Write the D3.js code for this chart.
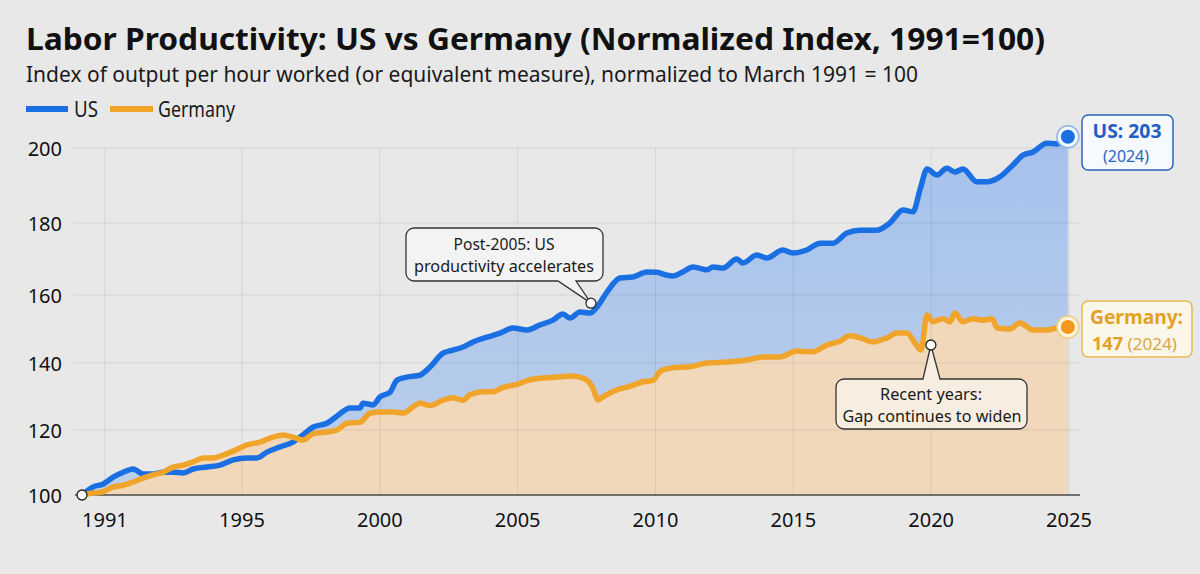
<!DOCTYPE html>
<html><head><meta charset="utf-8">
<script src="https://cdn.jsdelivr.net/npm/d3@7"></script>
<style>
body{margin:0;background:#e8e8e8;}
svg text{font-family:"Noto Sans","Open Sans",sans-serif;}
</style>
</head><body>
<svg id="chart" width="1200" height="574"></svg>
<script>
// ---------------- DATA ----------------
const seriesNames = ["US", "Germany"];
const xTickValues = [1991, 1995, 2000, 2005, 2010, 2015, 2020, 2025];
const yTickValues = [100, 120, 140, 160, 180, 200];

const usYears = [1991.00,1991.28,1991.53,1991.78,1992.03,1992.28,1992.53,1992.78,1993.03,1993.28,1993.53,1993.78,1994.13,1994.45,1994.78,1995.18,1995.54,1995.91,1996.38,1996.85,1997.21,1997.58,1998.08,1998.45,1998.92,1999.28,1999.39,1999.75,2000.01,2000.37,2000.62,2000.98,2001.46,2001.82,2002.29,2002.65,2003.02,2003.38,2003.89,2004.36,2004.83,2005.34,2005.81,2006.28,2006.64,2006.90,2007.26,2007.62,2007.88,2008.24,2008.71,2009.18,2009.69,2010.05,2010.42,2010.63,2010.99,2011.36,2011.87,2012.08,2012.45,2012.95,2013.17,2013.68,2014.04,2014.62,2014.98,2015.49,2015.97,2016.44,2016.94,2017.42,2018.03,2018.50,2018.98,2019.34,2019.60,2019.85,2020.21,2020.57,2020.86,2021.15,2021.66,2022.02,2022.49,2022.97,2023.33,2023.69,2024.20,2024.56,2024.96];
const usValues = [100,102.5,103.4,105.5,107,108,106.5,106.5,107,107,106.8,108,108.6,109.2,110.8,111.4,111.4,113.2,114.8,116.3,118.5,120.9,122,124.2,126.6,126.6,128,127.5,129.9,131.3,134.9,135.8,136.4,138.8,142.9,143.8,144.7,146.2,147.6,148.8,150.3,149.7,151.2,152.6,154.4,153.2,155,154.7,156.5,160.8,164.7,165,166.4,166.3,165.5,165.3,166.4,167.8,167,167.8,167.5,170,168.9,171.1,170.3,172.5,171.7,172.5,174.4,174.4,177.2,178,178,180,183.5,183,189,194.4,192.8,194.6,193.6,194.4,191,191,192.3,195.5,198.1,198.9,201.3,201.1,203];

const deYears = [1991.00,1991.28,1991.53,1991.78,1992.03,1992.28,1992.53,1992.78,1993.03,1993.28,1993.53,1993.78,1994.03,1994.28,1994.53,1994.78,1995.18,1995.65,1996.12,1996.49,1996.85,1997.21,1997.58,1998.08,1998.45,1998.81,1999.28,1999.64,2000.01,2000.48,2000.84,2001.46,2001.82,2002.29,2002.65,2003.02,2003.27,2003.74,2004.10,2004.47,2004.97,2005.45,2005.92,2006.43,2006.90,2007.37,2007.70,2007.92,2008.09,2008.60,2009.07,2009.54,2009.91,2010.16,2010.63,2011.25,2011.87,2012.59,2013.32,2013.90,2014.51,2015.13,2015.71,2016.22,2016.69,2017.05,2017.42,2017.89,2018.40,2018.76,2019.12,2019.41,2019.63,2019.85,2020.06,2020.43,2020.68,2020.86,2021.15,2021.51,2021.88,2022.21,2022.39,2022.86,2023.22,2023.69,2024.20,2024.56,2024.96];
const deValues = [100,100.6,101,102.5,103,104,105.2,106.2,107,108.6,109.2,110.2,111.4,111.4,112.3,113.5,115.4,116.3,117.8,118.5,117.8,116.9,118.8,119.4,120,122,122.3,125,125.4,125.4,125.1,128,127.3,128.9,129.6,128.9,130.5,131.4,131.4,132.7,133.6,135,135.5,135.8,136.1,135.5,133,129,129.9,132,133,134.4,134.8,137.4,138.6,138.9,140,140.3,140.9,141.8,141.8,143.5,143.3,145.3,146.4,148,147.4,146.2,147.4,148.8,148.8,145.9,143.8,154.1,152.1,153,152.1,154.7,152.1,153,152.6,153,150.3,150,151.8,149.7,149.7,150.3,150.6];

const endLabelValues = [203, 147];
const endLabelYear = "(2024)";
const annotationTexts = [["Post-2005: US", "productivity accelerates"], ["Recent years:", "Gap continues to widen"]];
const annotationAnchors = [[2007.66, 157.6], [2019.99, 145.3]];

const titleText = "Labor Productivity: US vs Germany (Normalized Index, 1991=100)";
const subtitleText = "Index of output per hour worked (or equivalent measure), normalized to March 1991 = 100";

// ---------------- DRAW ----------------
const svg = d3.select("#chart");
const C = { us: "#1a6fe3", de: "#f1a42a", deArea: "#f1d8bb" };

const x = d3.scaleLinear().domain([1991, 1995, 2025]).range([82, 242, 1069]);
const y = d3.scaleLinear().domain(yTickValues).range([495, 430, 363, 295, 223, 148]);

function fit(sel, w) { return sel.attr("textLength", w).attr("lengthAdjust", "spacingAndGlyphs"); }

svg.append("rect").attr("width", 1200).attr("height", 574).attr("fill", "#e8e8e8");

// title
fit(svg.append("text").attr("x", 26).attr("y", 50).attr("font-size", 30).attr("font-weight", 700)
  .attr("fill", "#111").text(titleText), 1019);
fit(svg.append("text").attr("x", 26).attr("y", 82).attr("font-size", 22).attr("fill", "#1a1a1a")
  .text(subtitleText), 892);

// legend
const leg = svg.append("g");
leg.append("line").attr("x1", 26).attr("x2", 68).attr("y1", 109).attr("y2", 109).attr("stroke", C.us).attr("stroke-width", 6);
fit(leg.append("text").attr("x", 74).attr("y", 117).attr("font-size", 21).attr("fill", "#1a1a1a").text(seriesNames[0]), 24);
leg.append("line").attr("x1", 110).attr("x2", 153).attr("y1", 109).attr("y2", 109).attr("stroke", C.de).attr("stroke-width", 6);
fit(leg.append("text").attr("x", 158).attr("y", 117).attr("font-size", 21).attr("fill", "#1a1a1a").text(seriesNames[1]), 77);

const us = usYears.map((t, i) => [t, usValues[i]]);
const de = deYears.map((t, i) => [t, deValues[i]]);

// gradient for US area
const defs = svg.append("defs");
const g1 = defs.append("linearGradient").attr("id", "usg").attr("x1", 0).attr("x2", 0).attr("y1", 0).attr("y2", 1);
g1.append("stop").attr("offset", "0%").attr("stop-color", "#a5c1ec");
g1.append("stop").attr("offset", "100%").attr("stop-color", "#bccfea");

const area = d3.area().x(d => x(d[0])).y0(y(100)).y1(d => y(d[1])).curve(d3.curveMonotoneX);
const line = d3.line().x(d => x(d[0])).y(d => y(d[1])).curve(d3.curveMonotoneX);

svg.append("path").datum(us).attr("d", area).attr("fill", "url(#usg)");
svg.append("path").datum(de).attr("d", area).attr("fill", C.deArea);

// grid
const grid = svg.append("g").attr("stroke", "#000").attr("stroke-opacity", 0.08).attr("stroke-width", 1);
yTickValues.slice(1).forEach(v => grid.append("line").attr("x1", 73).attr("x2", 1080).attr("y1", y(v)).attr("y2", y(v)));
xTickValues.slice(1).forEach(v => grid.append("line").attr("x1", x(v)).attr("x2", x(v)).attr("y1", y(200)).attr("y2", y(100)));

// y axis labels
svg.append("g").selectAll("text").data(yTickValues).join("text")
  .attr("x", 62).attr("y", d => y(d)).attr("dy", "0.38em").attr("text-anchor", "end")
  .attr("font-size", 20).attr("fill", "#111").text(d => d);

// x axis labels
const xl = svg.append("g").selectAll("text").data(xTickValues).join("text")
  .attr("x", d => x(d)).attr("y", 527).attr("text-anchor", (d, i) => i === 0 ? "start" : "middle")
  .attr("font-size", 20).attr("fill", "#111").text(d => d);
const b0 = xl.nodes()[0].getBBox();
grid.append("line").attr("x1", b0.x + b0.width / 2).attr("x2", b0.x + b0.width / 2).attr("y1", y(200)).attr("y2", y(100));

// baseline
svg.append("line").attr("x1", 75).attr("x2", 1080).attr("y1", y(100)).attr("y2", y(100)).attr("stroke", "#4a4a4a").attr("stroke-width", 1.5);

// lines
svg.append("path").datum(us).attr("d", line).attr("fill", "none").attr("stroke", C.us)
  .attr("stroke-width", 5.5).attr("stroke-linejoin", "round").attr("stroke-linecap", "round");
svg.append("path").datum(de).attr("d", line).attr("fill", "none").attr("stroke", C.de)
  .attr("stroke-width", 5.5).attr("stroke-linejoin", "round").attr("stroke-linecap", "round");

// start marker
svg.append("circle").attr("cx", x(usYears[0])).attr("cy", y(usValues[0])).attr("r", 5)
  .attr("fill", "#fff").attr("stroke", "#222").attr("stroke-width", 1.3);

// callouts
function callout(x0, y0, x1, y1, r, side, p0, p1, tx, ty) {
  const p = d3.path();
  p.moveTo(x0 + r, y0);
  if (side === "top") { p.lineTo(p0, y0); p.lineTo(tx, ty); p.lineTo(p1, y0); }
  p.lineTo(x1 - r, y0); p.arcTo(x1, y0, x1, y0 + r, r);
  p.lineTo(x1, y1 - r); p.arcTo(x1, y1, x1 - r, y1, r);
  if (side === "bottom") { p.lineTo(p1, y1); p.lineTo(tx, ty); p.lineTo(p0, y1); }
  p.lineTo(x0 + r, y1); p.arcTo(x0, y1, x0, y1 - r, r);
  p.lineTo(x0, y0 + r); p.arcTo(x0, y0, x0 + r, y0, r);
  p.closePath();
  return p.toString();
}
const a1 = [x(annotationAnchors[0][0]), y(annotationAnchors[0][1])];
const a2 = [x(annotationAnchors[1][0]), y(annotationAnchors[1][1])];
svg.append("path").attr("d", callout(406, 228, 603, 281, 8, "bottom", 558, 576, a1[0], a1[1]))
  .attr("fill", "#f3f3f3").attr("stroke", "#333").attr("stroke-width", 1.3);
svg.append("path").attr("d", callout(836, 379, 1027, 429, 8, "top", 923, 940, a2[0], a2[1]))
  .attr("fill", "#f7eee1").attr("stroke", "#333").attr("stroke-width", 1.3);
[a1, a2].forEach(a => svg.append("circle").attr("cx", a[0]).attr("cy", a[1]).attr("r", 5)
  .attr("fill", "#fff").attr("stroke", "#222").attr("stroke-width", 1.3));

function note(cx, yb, txt, w) {
  fit(svg.append("text").attr("x", cx).attr("y", yb).attr("text-anchor", "middle")
    .attr("font-size", 16).attr("fill", "#1a1a1a").text(txt), w);
}
note(504, 250, annotationTexts[0][0], 101);
note(504, 272, annotationTexts[0][1], 180);
note(931, 400, annotationTexts[1][0], 102);
note(932, 422, annotationTexts[1][1], 179);

// end markers
const usEnd = [x(usYears[usYears.length - 1]), y(usValues[usValues.length - 1])];
const deEnd = [x(deYears[deYears.length - 1]), y(deValues[deValues.length - 1])];
svg.append("circle").attr("cx", usEnd[0]).attr("cy", usEnd[1]).attr("r", 11).attr("fill", "#f4f8ff").attr("stroke", "#8fb4ea").attr("stroke-width", 1.5);
svg.append("circle").attr("cx", usEnd[0]).attr("cy", usEnd[1]).attr("r", 7).attr("fill", C.us);
svg.append("circle").attr("cx", deEnd[0]).attr("cy", deEnd[1]).attr("r", 11).attr("fill", "#fbf3dc").attr("stroke", "#f0cf7a").attr("stroke-width", 1.5);
svg.append("circle").attr("cx", deEnd[0]).attr("cy", deEnd[1]).attr("r", 7).attr("fill", "#f3981a");

// end label boxes
svg.append("rect").attr("x", 1082).attr("y", 115).attr("width", 91).attr("height", 55).attr("rx", 6)
  .attr("fill", "#f6f9fd").attr("stroke", "#2a64c0").attr("stroke-width", 1.5);
fit(svg.append("text").attr("x", 1127).attr("y", 138).attr("text-anchor", "middle").attr("font-size", 20).attr("font-weight", 700).attr("fill", "#1f5fc4").text(seriesNames[0] + ": " + endLabelValues[0]), 69);
fit(svg.append("text").attr("x", 1126).attr("y", 162).attr("text-anchor", "middle").attr("font-size", 16).attr("fill", "#2a64c0").text(endLabelYear), 46);

svg.append("rect").attr("x", 1082).attr("y", 301).attr("width", 110).attr("height", 56).attr("rx", 6)
  .attr("fill", "#fbf6ea").attr("stroke", "#e6b94f").attr("stroke-width", 1.5);
fit(svg.append("text").attr("x", 1090).attr("y", 324).attr("font-size", 19).attr("font-weight", 700).attr("fill", "#e3a126").text(seriesNames[1] + ":"), 93);
const t2 = svg.append("text").attr("x", 1092).attr("y", 350).attr("font-size", 18).attr("fill", "#e3a126");
t2.append("tspan").attr("font-weight", 700).text(endLabelValues[1]);
t2.append("tspan").attr("font-size", 17).attr("fill", "#d9a548").text(" " + endLabelYear);
fit(t2, 85);
</script>
</body></html>
